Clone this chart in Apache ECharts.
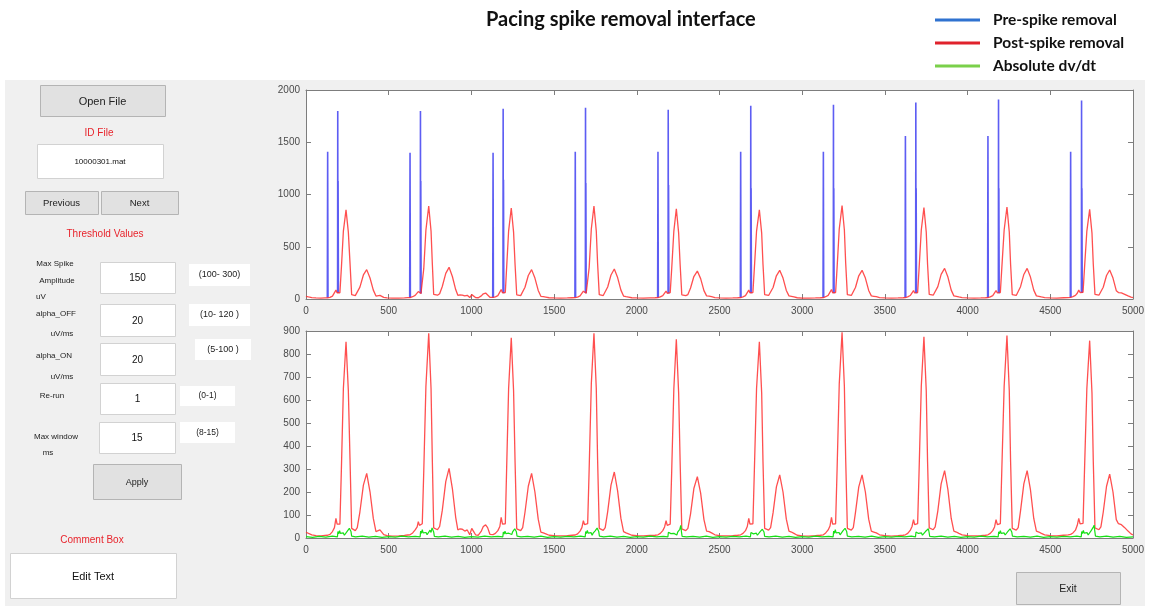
<!DOCTYPE html>
<html><head><meta charset="utf-8">
<script src="https://cdn.jsdelivr.net/npm/echarts@6/dist/echarts.min.js"></script>
<style>html,body{margin:0;padding:0;background:#fff}#c{width:1151px;height:606px}</style>
</head><body><div id="c"></div>
<script>
// ---------- data ----------
const xTickValues = [0,500,1000,1500,2000,2500,3000,3500,4000,4500,5000];
const topYTickValues = [0,500,1000,1500,2000];
const bottomYTickValues = [0,100,200,300,400,500,600,700,800,900];
const seriesNames = ['Pre-spike removal','Post-spike removal','Absolute dv/dt'];

// blue: raw signal with pacing spikes ('-' = gap)
const preSpike = [
[129,12],[131,1410],[133,14],[134,'-'],[191,60],[192,1800],[193,70],[194,1130],[196,58],[197,'-'],
[627,12],[629,1400],[631,14],[632,'-'],[691,55],[692,1800],[693,70],[694,1130],[696,52],[697,'-'],
[1129,12],[1131,1400],[1133,15],[1134,'-'],[1191,58],[1192,1820],[1193,70],[1194,1140],[1196,56],[1197,'-'],
[1626,12],[1628,1410],[1630,14],[1631,'-'],[1689,58],[1690,1830],[1691,70],[1692,1110],[1694,56],[1695,'-'],
[2126,12],[2128,1410],[2130,14],[2131,'-'],[2189,55],[2190,1810],[2191,65],[2192,1090],[2194,52],[2195,'-'],
[2626,12],[2628,1410],[2630,14],[2631,'-'],[2688,58],[2689,1850],[2690,70],[2691,1060],[2693,56],[2694,'-'],
[3126,12],[3128,1410],[3130,14],[3131,'-'],[3188,58],[3189,1860],[3190,70],[3191,1060],[3193,56],[3194,'-'],
[3622,12],[3624,1560],[3626,14],[3627,'-'],[3686,58],[3687,1880],[3688,70],[3689,1060],[3691,56],[3692,'-'],
[4121,12],[4123,1560],[4125,14],[4126,'-'],[4186,58],[4187,1910],[4188,70],[4189,1060],[4191,56],[4192,'-'],
[4621,14],[4623,1410],[4625,16],[4626,'-'],[4688,60],[4689,1900],[4690,70],[4691,1060],[4693,58]
];

// red: signal after spike removal
const postSpike = [
[0,25],[15,20],[35,14],[60,10],[90,9],[115,11],[131,12],[145,16],[160,28],[172,45],[181,85],[188,60],[196,55],[205,60],[214,300],[226,650],[242,853],[256,640],[266,346],[276,42],[285,38],[298,32],[310,45],[326,114],[347,230],[367,281],[387,201],[407,85],[423,28],[435,30],[447,35],[458,28],[470,15],[490,10],[520,8],[560,9],[595,11],
[615,13],[629,14],[645,22],[660,35],[672,48],[679,71],[686,55],[695,52],[703,62],[712,290],[725,660],[742,890],[756,650],[764,330],[772,44],[782,40],[795,36],[808,50],[824,120],[845,245],[865,303],[885,215],[905,90],[918,35],[931,40],[945,38],[960,30],[975,35],[990,14],[1002,42],[1012,30],[1025,14],[1042,12],[1060,30],[1072,50],[1086,57],[1098,45],[1112,16],
[1131,15],[1145,20],[1160,32],[1172,50],[1180,90],[1188,60],[1197,56],[1205,62],[1213,300],[1225,650],[1241,871],[1255,640],[1264,330],[1274,40],[1285,36],[1298,32],[1310,45],[1324,112],[1344,225],[1364,281],[1384,200],[1404,82],[1420,26],[1435,22],[1450,18],[1470,12],[1500,10],[1540,9],[1580,10],[1610,12],
[1628,13],[1642,18],[1657,30],[1668,45],[1677,75],[1684,58],[1694,56],[1703,62],[1712,300],[1725,670],[1741,890],[1755,650],[1763,340],[1773,42],[1784,38],[1797,33],[1809,45],[1824,115],[1844,230],[1864,287],[1884,205],[1904,85],[1920,28],[1935,22],[1950,18],[1970,12],[2000,10],[2040,9],[2080,11],[2110,12],
[2128,14],[2142,20],[2157,32],[2168,48],[2177,75],[2184,55],[2194,52],[2202,60],[2211,290],[2224,650],[2239,864],[2253,630],[2262,330],[2272,40],[2283,36],[2296,32],[2309,42],[2325,105],[2345,215],[2366,267],[2386,195],[2406,80],[2422,30],[2437,28],[2452,22],[2472,14],[2500,10],[2540,9],[2580,10],[2610,12],
[2628,14],[2642,20],[2657,32],[2668,50],[2677,85],[2684,60],[2694,56],[2702,62],[2711,300],[2724,650],[2741,853],[2755,630],[2763,330],[2773,42],[2784,38],[2797,34],[2809,45],[2824,110],[2844,222],[2864,274],[2884,200],[2904,82],[2920,30],[2935,26],[2950,20],[2970,12],[3000,9],[3040,8],[3080,10],[3110,12],
[3128,14],[3142,22],[3157,35],[3168,52],[3177,90],[3184,60],[3194,56],[3202,62],[3211,300],[3224,670],[3241,894],[3255,660],[3263,340],[3273,42],[3284,38],[3297,34],[3309,45],[3322,110],[3342,222],[3362,274],[3382,200],[3402,82],[3418,30],[3433,26],[3448,22],[3468,14],[3500,10],[3540,8],[3580,10],[3610,12],
[3624,14],[3638,20],[3653,33],[3664,50],[3673,80],[3680,58],[3690,56],[3698,62],[3707,300],[3720,660],[3736,875],[3750,640],[3758,330],[3768,44],[3779,40],[3792,36],[3804,48],[3820,118],[3840,235],[3861,293],[3881,210],[3901,85],[3917,30],[3932,26],[3947,20],[3967,14],[4000,10],[4040,9],[4080,10],[4108,12],
[4123,14],[4137,20],[4152,32],[4163,48],[4172,80],[4180,58],[4190,56],[4198,62],[4207,300],[4221,660],[4238,880],[4252,640],[4260,330],[4270,42],[4281,38],[4294,34],[4306,45],[4320,118],[4340,235],[4360,293],[4380,210],[4400,85],[4416,30],[4431,26],[4446,20],[4466,14],[4500,10],[4540,9],[4580,12],[4608,14],
[4623,16],[4637,22],[4652,34],[4663,55],[4672,85],[4680,62],[4690,58],[4698,64],[4707,300],[4721,650],[4738,858],[4752,630],[4760,330],[4770,44],[4781,40],[4794,36],[4806,48],[4820,112],[4840,225],[4859,278],[4879,200],[4899,80],[4912,62],[4930,58],[4950,45],[4970,30],[4988,18],[5000,13]
];

// green: absolute dv/dt
const dvdt = [
[0,6],[40,3],[80,7],[120,4],[160,8],[190,5],[193,28],[198,18],[203,32],[208,20],[214,26],[220,15],[226,22],[232,12],[238,20],[244,14],[250,30],[256,22],[262,42],[268,50],[272,28],[276,8],[300,5],[340,8],[380,4],[420,7],[460,3],[500,6],[540,4],[580,8],[620,5],[660,7],[690,5],
[693,30],[698,20],[703,36],[708,22],[714,28],[720,16],[726,24],[732,14],[738,22],[744,16],[750,34],[756,24],[762,44],[768,48],[772,26],[776,7],[800,5],[840,8],[880,4],[920,7],[960,3],[1000,6],[1040,4],[1080,8],[1120,5],[1160,7],[1190,5],
[1193,26],[1198,17],[1203,30],[1208,19],[1214,25],[1220,14],[1226,21],[1232,13],[1238,19],[1244,15],[1250,28],[1256,21],[1262,40],[1268,46],[1272,27],[1276,8],[1300,5],[1340,7],[1380,4],[1420,8],[1460,3],[1500,6],[1540,4],[1580,7],[1620,5],[1660,8],[1688,5],
[1691,28],[1696,19],[1701,33],[1706,21],[1712,27],[1718,15],[1724,23],[1730,12],[1736,21],[1742,14],[1748,31],[1754,23],[1760,43],[1766,49],[1770,28],[1774,8],[1800,5],[1840,8],[1880,4],[1920,7],[1960,3],[2000,6],[2040,4],[2080,8],[2120,5],[2160,7],[2188,5],
[2191,25],[2196,17],[2201,29],[2206,19],[2212,24],[2218,14],[2224,20],[2230,12],[2236,19],[2242,13],[2248,27],[2254,20],[2260,38],[2266,55],[2270,27],[2274,7],[2300,5],[2340,7],[2380,4],[2420,8],[2460,3],[2500,6],[2540,4],[2580,7],[2620,5],[2660,8],[2687,5],
[2690,24],[2695,16],[2700,30],[2705,18],[2711,25],[2717,14],[2723,21],[2729,12],[2735,20],[2741,14],[2747,29],[2753,21],[2759,38],[2765,43],[2769,26],[2773,7],[2800,5],[2840,8],[2880,4],[2920,7],[2960,3],[3000,6],[3040,4],[3080,8],[3120,5],[3160,7],[3187,5],
[3190,30],[3195,20],[3200,36],[3205,22],[3211,30],[3217,16],[3223,24],[3229,14],[3235,22],[3241,16],[3247,32],[3253,24],[3259,42],[3265,48],[3269,28],[3273,8],[3300,5],[3340,7],[3380,4],[3420,8],[3460,3],[3500,6],[3540,4],[3580,7],[3620,5],[3660,8],[3685,5],
[3688,26],[3693,18],[3698,31],[3703,20],[3709,26],[3715,15],[3721,22],[3727,12],[3733,20],[3739,14],[3745,28],[3751,21],[3757,36],[3763,40],[3767,25],[3771,7],[3800,5],[3840,8],[3880,4],[3920,7],[3960,3],[4000,6],[4040,4],[4080,8],[4120,5],[4160,7],[4185,5],
[4188,27],[4193,18],[4198,32],[4203,20],[4209,26],[4215,15],[4221,22],[4227,13],[4233,20],[4239,15],[4245,30],[4251,22],[4257,40],[4263,44],[4267,26],[4271,8],[4300,5],[4340,7],[4380,4],[4420,8],[4460,3],[4500,6],[4540,4],[4580,7],[4620,5],[4660,8],[4687,5],
[4690,28],[4695,19],[4700,33],[4705,21],[4711,27],[4717,15],[4723,23],[4729,13],[4735,21],[4741,15],[4747,32],[4753,24],[4759,46],[4765,56],[4769,30],[4773,8],[4800,5],[4840,8],[4880,4],[4920,7],[4960,3],[5000,5]
];

// ---------- chart ----------
const chart = echarts.init(document.getElementById('c'), null, {renderer:'canvas'});
const AX = '#7d7d7d', LBL = '#4a4a4a', GF = 'Liberation Sans, Arial, sans-serif';
const xmin = xTickValues[0], xmax = xTickValues[xTickValues.length-1], xint = xTickValues[1]-xTickValues[0];
const plainNum = v => String(v);

function xAx(grid, pos, labels){
  return {type:'value', gridIndex:grid, position:pos, min:xmin, max:xmax, interval:xint,
    axisLine:{show:true, onZero:false, lineStyle:{color:AX,width:1}},
    axisTick:{show:true, inside:true, length:5, lineStyle:{color:AX}},
    axisLabel:{show:labels, color:LBL, fontSize:10, fontFamily:GF, margin:7, formatter:plainNum},
    splitLine:{show:false}};
}
function yAx(grid, pos, ticks, labels){
  return {type:'value', gridIndex:grid, position:pos, min:ticks[0], max:ticks[ticks.length-1], interval:ticks[1]-ticks[0],
    axisLine:{show:true, onZero:false, lineStyle:{color:AX,width:1}},
    axisTick:{show:true, inside:true, length:5, lineStyle:{color:AX}},
    axisLabel:{show:labels, color:LBL, fontSize:10, fontFamily:GF, margin:6, formatter:plainNum},
    splitLine:{show:false}};
}

// GUI controls
const G = [];
function rect(x,y,w,h,fill,stroke,z){G.push({type:'rect', z:(z===undefined?1:z), shape:{x,y,width:w,height:h}, style:{fill, stroke:stroke||null, lineWidth:1}});}
function txt(x,y,t,size,color,align){G.push({type:'text', z:3, style:{text:t, x, y, fill:color||'#222', fontSize:size, fontFamily:GF, align:align||'center', verticalAlign:'middle'}});}
function button(x,y,w,h,t,size){rect(x+0.5,y+0.5,w,h,'#e1e1e1','#b4b4b4'); txt(x+w/2,y+h/2+1,t,size);}
function box(x,y,w,h,t,size){rect(x+0.5,y+0.5,w,h,'#ffffff','#d2d2d2'); txt(x+w/2,y+h/2+1,t,size,'#111');}
function plain(x,y,w,h,t,size){rect(x,y,w,h,'#ffffff',null); txt(x+w/2,y+h/2,t,size,'#222');}

rect(5,80,1140,526,'#f0f0f0',null,-10);
rect(306,90,827,209,'#ffffff',null,-9);
rect(306,331,827,207,'#ffffff',null,-9);

button(40,85,125,31,'Open File',11);
txt(99,133,'ID File',10,'#e8242c');
box(37,144,126,34,'10000301.mat',8);
button(25,191,73,23,'Previous',9.5);
button(101,191,77,23,'Next',9.5);
txt(105,234,'Threshold Values',10,'#e8242c');
txt(55,264,'Max Spike',8); txt(57,281,'Amplitude',8); txt(41,297,'uV',8);
box(100,262,75,31,'150',10); plain(189,264,61,22,'(100- 300)',9);
txt(56,314,'alpha_OFF',8); txt(62,334,'uV/ms',8);
box(100,304,75,32,'20',10); plain(189,304,61,22,'(10- 120 )',9);
txt(54,356,'alpha_ON',8); txt(62,377,'uV/ms',8);
box(100,343,75,32,'20',10); plain(195,339,56,21,'(5-100 )',9);
txt(52,396,'Re-run',8);
box(100,383,75,31,'1',10); plain(180,386,55,20,'(0-1)',8.5);
txt(56,437,'Max window',8); txt(48,453,'ms',8);
box(99,422,76,31,'15',10); plain(180,422,55,21,'(8-15)',8.5);
button(93,464,88,35,'Apply',9);
txt(92,540,'Comment Box',10,'#e8242c');
box(10,553,166,45,'Edit Text',11);
button(1016,572,104,32,'Exit',10.5);

chart.setOption({
  backgroundColor:'#ffffff',
  animation:false,
  title:{text:'Pacing spike removal interface', left:481, top:5,
    textStyle:{fontFamily:'Lato, Open Sans, sans-serif', fontWeight:'bold', fontSize:20, color:'#111'}},
  legend:{left:930, top:6, orient:'vertical', icon:'rect', itemWidth:45, itemHeight:3, itemGap:5, selectedMode:false,
    textStyle:{fontFamily:'Lato, Open Sans, sans-serif', fontWeight:'bold', fontSize:15.5, color:'#111', lineHeight:18, padding:[0,0,0,8]},
    data:[{name:seriesNames[0], itemStyle:{color:'#2f72d0'}},
          {name:seriesNames[1], itemStyle:{color:'#e0222c'}},
          {name:seriesNames[2], itemStyle:{color:'#7ad04a'}}]},
  grid:[{left:306, top:90, width:827, height:209, show:false},
        {left:306, top:331, width:827, height:207, show:false}],
  graphic:{elements:G},
  xAxis:[xAx(0,'bottom',true), xAx(0,'top',false), xAx(1,'bottom',true), xAx(1,'top',false)],
  yAxis:[yAx(0,'left',topYTickValues,true), yAx(0,'right',topYTickValues,false),
         yAx(1,'left',bottomYTickValues,true), yAx(1,'right',bottomYTickValues,false)],
  series:[
    {name:seriesNames[0], type:'line', xAxisIndex:0, yAxisIndex:0, data:preSpike, showSymbol:false, symbol:'none', connectNulls:false,
      lineStyle:{color:'#3434f0', width:1.6, opacity:0.8}, itemStyle:{color:'#3434f0'}, z:2},
    {name:seriesNames[1], type:'line', xAxisIndex:0, yAxisIndex:0, data:postSpike, showSymbol:false, symbol:'none',
      lineStyle:{color:'#ff3030', width:1.3, opacity:0.85}, itemStyle:{color:'#ff3030'}, z:3},
    {name:seriesNames[1], type:'line', xAxisIndex:2, yAxisIndex:2, data:postSpike, showSymbol:false, symbol:'none',
      lineStyle:{color:'#ff3030', width:1.3, opacity:0.85}, itemStyle:{color:'#ff3030'}, z:2},
    {name:seriesNames[2], type:'line', xAxisIndex:2, yAxisIndex:2, data:dvdt, showSymbol:false, symbol:'none',
      lineStyle:{color:'#16e016', width:1.2}, itemStyle:{color:'#16e016'}, z:3}
  ]
});
</script></body></html>
